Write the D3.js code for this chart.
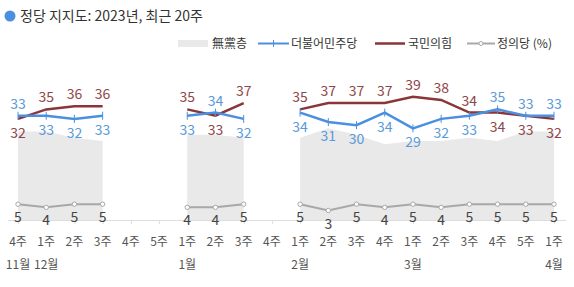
<!DOCTYPE html>
<html>
<head>
<meta charset="utf-8">
<script src="https://cdn.jsdelivr.net/npm/d3@7"></script>
<style>
  body { margin: 0; background: #fff; }
  svg { font-family: 'Noto Sans CJK KR', 'Noto Sans', sans-serif; }
</style>
</head>
<body>
<div class="canvas"></div>
<script>
const weeks = ['4주', '1주', '2주', '3주', '4주', '5주', '1주', '2주', '3주', '4주',
  '1주', '2주', '3주', '4주', '1주', '2주', '3주', '4주', '5주', '1주']
const months = ['11월', '12월', '', '', '', '', '1월', '', '', '',
  '2월', '', '', '', '3월', '', '', '', '', '4월']

const noParty = [28, 28, 26, 25, null, null, 27, 27, 26, null, 26, 29, 27, 24, 25, 25, 26, 25, 28, 28]
const dp = [33, 33, 32, 33, null, null, 33, 34, 32, null, 34, 31, 30, 34, 29, 32, 33, 35, 33, 33]
const ppp = [32, 35, 36, 36, null, null, 35, 33, 37, null, 35, 37, 37, 37, 39, 38, 34, 34, 33, 32]
const justice = [5, 4, 5, 5, null, null, 4, 4, 5, null, 5, 3, 5, 4, 5, 4, 5, 5, 5, 5]

const width = 574
const height = 287

const svg = d3.select('.canvas').append('svg')
  .attr('width', width)
  .attr('height', height)

const x = d3.scalePoint()
  .domain(d3.range(weeks.length))
  .range([18, 554])

const y = d3.scaleLinear()
  .domain([0, 40])
  .range([220, 93.6])

const blue = '#4a8fe0'
const blueText = '#5a9ad8'
const red = '#8a3538'
const redText = '#8e4648'
const gray = '#a8a8a8'

// title
svg.append('circle').attr('cx', 10).attr('cy', 16).attr('r', 5.5).attr('fill', '#4a8fe0')
svg.append('text')
  .attr('x', 20).attr('y', 21)
  .attr('font-size', 14).attr('fill', '#333')
  .text('정당 지지도: 2023년, 최근 20주')

// axis line + ticks
const xAxis = d3.axisBottom(x).tickSize(4).tickFormat('')
const xAxisGroup = svg.append('g')
  .attr('transform', `translate(0, ${y(0)})`)
  .call(xAxis)
xAxisGroup.select('.domain').attr('stroke', '#ddd').attr('d', `M8,0.5H566`)
xAxisGroup.selectAll('.tick line').attr('stroke', '#ddd')

// week + month labels
svg.append('g').selectAll('text')
  .data(weeks)
  .enter().append('text')
  .attr('x', (d, i) => x(i))
  .attr('y', 246)
  .attr('text-anchor', 'middle')
  .attr('font-size', 12)
  .attr('fill', '#555')
  .text(d => d)

svg.append('g').selectAll('text')
  .data(months)
  .enter().append('text')
  .attr('x', (d, i) => x(i))
  .attr('y', 269)
  .attr('text-anchor', 'middle')
  .attr('font-size', 12)
  .attr('fill', '#555')
  .text(d => d)

const idx = d3.range(weeks.length)

// 무당층 area
const area = d3.area()
  .defined(i => noParty[i] != null)
  .x(i => x(i))
  .y0(y(0))
  .y1(i => y(noParty[i]))
svg.append('path').attr('d', area(idx)).attr('fill', '#e9e9e9')

const line = arr => d3.line()
  .defined(i => arr[i] != null)
  .x(i => x(i))
  .y(i => y(arr[i]))

// 정의당
svg.append('path').attr('d', line(justice)(idx))
  .attr('fill', 'none').attr('stroke', gray).attr('stroke-width', 2)
svg.append('g').selectAll('circle')
  .data(idx.filter(i => justice[i] != null))
  .enter().append('circle')
  .attr('cx', i => x(i)).attr('cy', i => y(justice[i]))
  .attr('r', 2.2).attr('fill', '#fff').attr('stroke', gray).attr('stroke-width', 1)

// 국민의힘
svg.append('path').attr('d', line(ppp)(idx))
  .attr('fill', 'none').attr('stroke', red).attr('stroke-width', 2.5)

// 더불어민주당
svg.append('path').attr('d', line(dp)(idx))
  .attr('fill', 'none').attr('stroke', blue).attr('stroke-width', 2.5)
svg.append('g').selectAll('line')
  .data(idx.filter(i => dp[i] != null))
  .enter().append('line')
  .attr('x1', i => x(i)).attr('x2', i => x(i))
  .attr('y1', i => y(dp[i]) - 4).attr('y2', i => y(dp[i]) + 4)
  .attr('stroke', blue).attr('stroke-width', 1)

// value labels
const labels = svg.append('g').attr('font-size', 14).attr('text-anchor', 'middle')
idx.filter(i => dp[i] != null).forEach(i => {
  const dpUp = dp[i] >= ppp[i]
  labels.append('text')
    .attr('x', x(i)).attr('y', dpUp ? y(dp[i]) - 7 : y(dp[i]) + 19)
    .attr('fill', blueText).text(dp[i])
  labels.append('text')
    .attr('x', x(i)).attr('y', dpUp ? y(ppp[i]) + 19 : y(ppp[i]) - 7)
    .attr('fill', redText).text(ppp[i])
  labels.append('text')
    .attr('x', x(i)).attr('y', y(justice[i]) + 18)
    .attr('fill', '#444').text(justice[i])
})

// legend
const lg = svg.append('g').attr('font-size', 12).attr('fill', '#333')
lg.append('rect').attr('x', 178).attr('y', 40).attr('width', 30).attr('height', 7).attr('fill', '#e9e9e9')
lg.append('text').attr('x', 212).attr('y', 48).text('無黨층')
lg.append('line').attr('x1', 258).attr('x2', 289).attr('y1', 43.5).attr('y2', 43.5)
  .attr('stroke', blue).attr('stroke-width', 2)
lg.append('line').attr('x1', 273.5).attr('x2', 273.5).attr('y1', 40).attr('y2', 47)
  .attr('stroke', blue).attr('stroke-width', 1)
lg.append('text').attr('x', 291).attr('y', 48).text('더불어민주당')
lg.append('line').attr('x1', 375).attr('x2', 405).attr('y1', 43.5).attr('y2', 43.5)
  .attr('stroke', red).attr('stroke-width', 2.5)
lg.append('text').attr('x', 408).attr('y', 48).text('국민의힘')
lg.append('line').attr('x1', 467).attr('x2', 495).attr('y1', 43.5).attr('y2', 43.5)
  .attr('stroke', gray).attr('stroke-width', 2)
lg.append('circle').attr('cx', 481).attr('cy', 43.5).attr('r', 2)
  .attr('fill', '#fff').attr('stroke', gray)
lg.append('text').attr('x', 497).attr('y', 48).text('정의당 (%)')
</script>
</body>
</html>
